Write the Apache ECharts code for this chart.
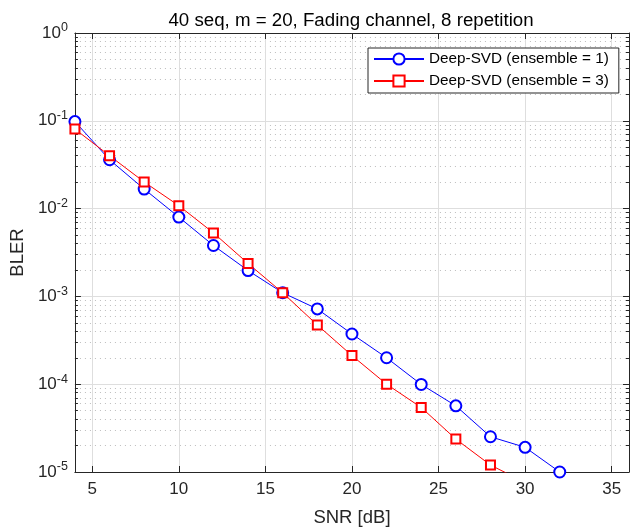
<!DOCTYPE html>
<html><head><meta charset="utf-8">
<script src="https://cdn.jsdelivr.net/npm/echarts@6/dist/echarts.min.js"></script>
<style>html,body{margin:0;padding:0;background:#fff}#c{width:630px;height:532px}</style>
</head><body><div id="c"></div>
<script>
const snr1 = [4, 6, 8, 10, 12, 14, 16, 18, 20, 22, 24, 26, 28, 30, 32];
const bler1 = [0.098, 0.036, 0.0167, 0.0080, 0.0038, 0.00197, 0.0011, 0.00072, 0.000373, 0.0002, 0.0000993, 0.0000567, 0.0000252, 0.0000191, 0.00001];
const snr3 = [4, 6, 8, 10, 12, 14, 16, 18, 20, 22, 24, 26, 28, 30];
const bler3 = [0.0805, 0.040, 0.0201, 0.0108, 0.00529, 0.00237, 0.0011, 0.000472, 0.000212, 0.0001, 0.0000543, 0.0000237, 0.000012, 0.0000076];
const xTicks = [5, 10, 15, 20, 25, 30, 35];
const names = ['Deep-SVD (ensemble = 1)', 'Deep-SVD (ensemble = 3)'];

const minorVals = [];
for (let e = -5; e < 0; e++) for (let k = 2; k <= 9; k++) minorVals.push(+(k * Math.pow(10, e)).toPrecision(3));

const font = "'Liberation Sans', Arial, sans-serif";
const axisCol = '#262626';
const yRange = {type: 'log', logBase: 10, min: 1e-5, max: 1};

function yMajor(pos, labels) {
  return Object.assign({}, yRange, {
    position: pos,
    axisLine: {show: true, lineStyle: {color: axisCol, width: 1}},
    axisTick: {show: true, inside: true, length: 6, lineStyle: {color: axisCol}},
    axisLabel: labels ? {
      show: true, margin: 7, fontFamily: font, color: axisCol,
      formatter: v => '{b|10}{e|' + Math.round(Math.log10(v)) + '}',
      rich: {b: {fontSize: 17, fontFamily: font, color: axisCol}, e: {fontSize: 12.5, fontFamily: font, color: axisCol, padding: [0, 0, 10, 0]}}
    } : {show: false},
    splitLine: {show: labels, lineStyle: {color: '#dedede', width: 1}},
    name: labels ? 'BLER' : '',
    nameLocation: 'middle', nameGap: 46,
    nameTextStyle: {fontFamily: font, fontSize: 18.5, color: axisCol}
  });
}
function yMinor(pos, grid) {
  return Object.assign({}, yRange, {
    position: pos,
    axisLine: {show: false},
    axisTick: {show: true, inside: true, length: 3, customValues: minorVals, lineStyle: {color: axisCol}},
    axisLabel: {show: false},
    splitLine: {show: grid, lineStyle: {color: '#bdbdbd', width: 1, type: [1, 4]}}
  });
}
function xAx(pos, labels) {
  return {
    type: 'value', min: 4, max: 36, position: pos,
    axisLine: {show: true, onZero: false, lineStyle: {color: axisCol, width: 1}},
    axisTick: {show: true, inside: true, length: 6, customValues: xTicks, lineStyle: {color: axisCol}},
    axisLabel: labels ? {show: true, customValues: xTicks, fontFamily: font, fontSize: 17, color: axisCol, margin: 9} : {show: false},
    splitLine: {show: labels, lineStyle: {color: '#dedede', width: 1}},
    name: labels ? 'SNR [dB]' : '',
    nameLocation: 'middle', nameGap: 36,
    nameTextStyle: {fontFamily: font, fontSize: 18.5, color: axisCol}
  };
}

const chart = echarts.init(document.getElementById('c'), null, {renderer: 'canvas'});
chart.setOption({
  animation: false,
  backgroundColor: '#fff',
  title: {text: '40 seq, m = 20, Fading channel, 8 repetition', left: 351, top: 11, padding: 0, textAlign: 'center',
    textStyle: {fontFamily: font, fontSize: 18.7, fontWeight: 'normal', color: '#000'}},
  grid: {left: 73, right: 1, top: 33, bottom: 59, containLabel: false},
  xAxis: [xAx('bottom', true), xAx('top', false)],
  yAxis: [yMajor('left', true), yMinor('left', true), yMajor('right', false), yMinor('right', false)],
  legend: {
    orient: 'vertical', left: 368, top: 48,
    borderColor: axisCol, borderWidth: 1, backgroundColor: '#fff', borderRadius: 0,
    padding: [3, 10, 4, 5], itemGap: 6, itemWidth: 50, itemHeight: 14,
    textStyle: {fontFamily: font, fontSize: 15.3, lineHeight: 16, color: '#000'},
    data: names
  },
  series: [
    {name: names[0], type: 'line', xAxisIndex: 0, yAxisIndex: 0,
     data: snr1.map((x, i) => [x, bler1[i]]),
     symbol: 'emptyCircle', symbolSize: 11, color: '#0000ff',
     lineStyle: {width: 1, color: '#0000ff'}, itemStyle: {color: '#0000ff', borderWidth: 1.1}, clip: true},
    {name: names[1], type: 'line', xAxisIndex: 0, yAxisIndex: 0,
     data: snr3.map((x, i) => [x, bler3[i]]),
     symbol: 'emptyRect', symbolSize: 9, color: '#ff0000',
     lineStyle: {width: 1, color: '#ff0000'}, itemStyle: {color: '#ff0000', borderWidth: 1.1}, clip: true}
  ]
});
</script></body></html>
